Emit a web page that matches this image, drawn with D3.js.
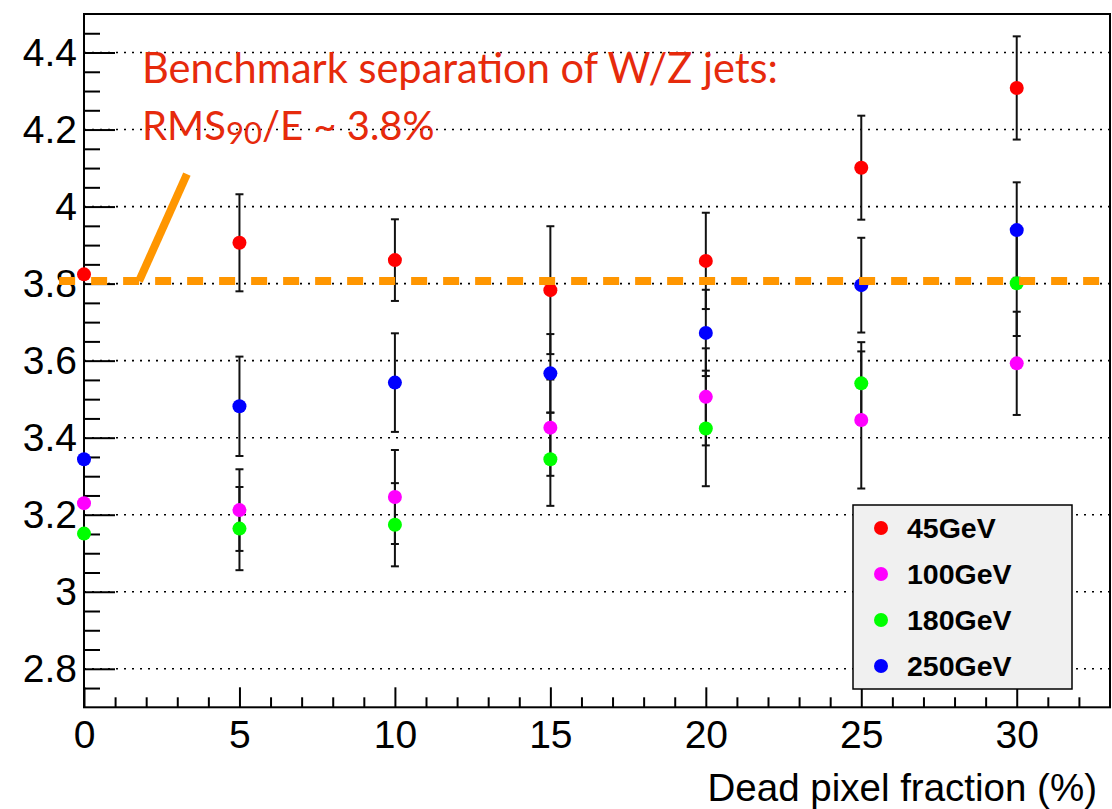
<!DOCTYPE html>
<html lang="en">
  <head>
    <meta charset="UTF-8" />
    <title>RMS90/E vs dead pixel fraction</title>
    <script src="https://d3js.org/d3.v7.min.js"></script>
    <style>
      body {
        margin: 0;
        background: #fff;
        font-family: "Liberation Sans", Arial, sans-serif;
      }
      .tick text {
        font-family: "Liberation Sans", Arial, sans-serif;
      }
    </style>
  </head>
  <body>
    <div id="chart"></div>
    <script>
      const width = 1112;
      const height = 809;

      // tick values / labels
      const xTicks = [0, 5, 10, 15, 20, 25, 30];
      const yTicks = [2.8, 3.0, 3.2, 3.4, 3.6, 3.8, 4.0, 4.2, 4.4];
      const yTickLabels = ["2.8", "3", "3.2", "3.4", "3.6", "3.8", "4", "4.2", "4.4"];

      // dead pixel fraction (%)
      const fractions = [0, 5, 10, 15, 20, 25, 30];

      const seriesNames = ["45GeV", "100GeV", "180GeV", "250GeV"];
      const seriesColors = ["#ff0000", "#ff00ff", "#00ff00", "#0000ff"];

      const rms45 = [3.824, 3.906, 3.861, 3.783, 3.859, 4.101, 4.308];
      const err45 = [0, 0.126, 0.106, 0.166, 0.125, 0.135, 0.134];
      const rms100 = [3.230, 3.212, 3.246, 3.426, 3.506, 3.446, 3.593];
      const err100 = [0, 0.106, 0.122, 0.125, 0.126, 0.178, 0.134];
      const rms180 = [3.151, 3.164, 3.174, 3.344, 3.424, 3.541, 3.801];
      const err180 = [0, 0.108, 0.108, 0.121, 0.15, 0.107, 0.137];
      const rms250 = [3.344, 3.4815, 3.543, 3.567, 3.672, 3.796, 3.939];
      const err250 = [0, 0.129, 0.128, 0.102, 0.112, 0.123, 0.124];

      // benchmark line (drawn in data units)
      const benchmark = 3.8066;
      const benchX = [-0.8, 32.67];
      const pointer = [[1.77, 3.8066], [3.31, 4.084]];

      const values = [rms45, rms100, rms180, rms250];
      const errors = [err45, err100, err180, err250];

      const svg = d3
        .select("#chart")
        .append("svg")
        .attr("width", width)
        .attr("height", height);

      const x = d3.scaleLinear().domain([0, 33]).range([84, 1110]);
      const y = d3.scaleLinear().domain([2.7, 4.5]).range([707.3, 14]);

      // dotted grid
      svg
        .append("g")
        .selectAll("line")
        .data(yTicks)
        .join("line")
        .attr("x1", x(0))
        .attr("x2", x(33))
        .attr("y1", (d) => y(d))
        .attr("y2", (d) => y(d))
        .attr("stroke", "#000")
        .attr("stroke-width", 1.6)
        .attr("stroke-dasharray", "2,6");

      // axes: major + minor ticks, pointing inside
      const yMinor = d3.range(2.75, 4.5, 0.05).filter(
        (v) => !yTicks.some((t) => Math.abs(t - v) < 1e-6)
      );
      const xMinor = d3.range(1, 33, 1).filter((v) => v % 5 !== 0);

      svg
        .append("g")
        .attr("transform", `translate(${x(0)},0)`)
        .call(
          d3
            .axisLeft(y)
            .tickValues(yTicks)
            .tickFormat((d, i) => yTickLabels[i])
            .tickSize(-31)
            .tickPadding(7)
        );
      svg
        .append("g")
        .attr("transform", `translate(${x(0)},0)`)
        .call(d3.axisLeft(y).tickValues(yMinor).tickFormat("").tickSize(-16));

      svg
        .append("g")
        .attr("transform", `translate(0,${y(2.7)})`)
        .call(d3.axisBottom(x).tickValues(xTicks).tickSize(-20).tickPadding(13));
      svg
        .append("g")
        .attr("transform", `translate(0,${y(2.7)})`)
        .call(d3.axisBottom(x).tickValues(xMinor).tickFormat("").tickSize(-10));

      svg.selectAll(".domain").remove();
      svg.selectAll(".tick line").attr("stroke", "#000").attr("stroke-width", 2);
      svg
        .selectAll(".tick text")
        .attr("fill", "#000")
        .style("font-size", "39px");

      // frame
      svg
        .append("rect")
        .attr("x", x(0))
        .attr("y", y(4.5))
        .attr("width", x(33) - x(0))
        .attr("height", y(2.7) - y(4.5))
        .attr("fill", "none")
        .attr("stroke", "#000")
        .attr("stroke-width", 2);

      // axis title
      svg
        .append("text")
        .attr("x", 1097)
        .attr("y", 801)
        .attr("text-anchor", "end")
        .style("font-size", "38.5px")
        .text("Dead pixel fraction (%)");

      // error bars + points
      values.forEach((vals, s) => {
        const g = svg.append("g");
        const pts = fractions.map((f, i) => ({ f, v: vals[i], e: errors[s][i] }));
        const withErr = pts.filter((d) => d.e > 0);
        g.selectAll("line.bar")
          .data(withErr)
          .join("line")
          .attr("class", "bar")
          .attr("x1", (d) => x(d.f))
          .attr("x2", (d) => x(d.f))
          .attr("y1", (d) => y(d.v - d.e))
          .attr("y2", (d) => y(d.v + d.e))
          .attr("stroke", "#111")
          .attr("stroke-width", 2);
        g.selectAll("line.cap")
          .data(withErr.flatMap((d) => [d.v - d.e, d.v + d.e].map((c) => ({ f: d.f, c }))))
          .join("line")
          .attr("class", "cap")
          .attr("x1", (d) => x(d.f) - 4)
          .attr("x2", (d) => x(d.f) + 4)
          .attr("y1", (d) => y(d.c))
          .attr("y2", (d) => y(d.c))
          .attr("stroke", "#111")
          .attr("stroke-width", 2);
      });
      values.forEach((vals, s) => {
        svg
          .append("g")
          .selectAll("circle")
          .data(fractions.map((f, i) => ({ f, v: vals[i] })))
          .join("circle")
          .attr("cx", (d) => x(d.f))
          .attr("cy", (d) => y(d.v))
          .attr("r", 7)
          .attr("fill", seriesColors[s]);
      });

      // legend
      const legend = svg.append("g");
      legend
        .append("rect")
        .attr("x", 853)
        .attr("y", 505)
        .attr("width", 219)
        .attr("height", 184)
        .attr("fill", "#f0f0f0")
        .attr("stroke", "#000")
        .attr("stroke-width", 1.5);
      const rows = legend
        .selectAll("g.row")
        .data(seriesNames)
        .join("g")
        .attr("class", "row")
        .attr("transform", (d, i) => `translate(881,${528 + i * 46})`);
      rows
        .append("circle")
        .attr("r", 7)
        .attr("fill", (d, i) => seriesColors[i]);
      rows
        .append("text")
        .attr("x", 26)
        .attr("dy", "0.36em")
        .style("font-size", "28.5px")
        .style("font-weight", "bold")
        .text((d) => d);

      // benchmark annotation
      const orange = "#ff9600";
      svg
        .append("line")
        .attr("x1", x(benchX[0]))
        .attr("x2", x(benchX[1]))
        .attr("y1", y(benchmark))
        .attr("y2", y(benchmark))
        .attr("stroke", orange)
        .attr("stroke-width", 8)
        .attr("stroke-dasharray", "16,16");
      svg
        .append("path")
        .attr("d", d3.line().x((d) => x(d[0])).y((d) => y(d[1]))(pointer))
        .attr("stroke", orange)
        .attr("stroke-width", 8)
        .attr("fill", "none");

      const red = "#e62a0c";
      svg
        .append("text")
        .attr("x", 142)
        .attr("y", 83)
        .attr("fill", red)
        .attr("textLength", 636)
        .attr("lengthAdjust", "spacingAndGlyphs")
        .style("font-family", "Lato, 'Open Sans', sans-serif")
        .style("font-size", "42px")
        .text("Benchmark separation of W/Z jets:");
      const t2 = svg
        .append("text")
        .attr("x", 142)
        .attr("y", 140)
        .attr("fill", red)
        .style("font-family", "Lato, 'Open Sans', sans-serif")
        .style("font-size", "40px");
      t2.append("tspan").text("RMS");
      t2.append("tspan").attr("dy", 4).style("font-size", "31px").text("90");
      t2.append("tspan").attr("dy", -4).text("/E ~ 3.8%");
    </script>
  </body>
</html>
